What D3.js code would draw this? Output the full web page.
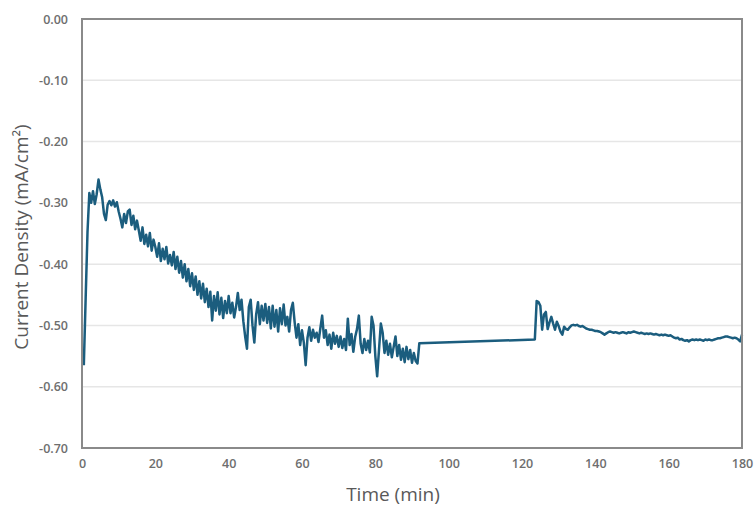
<!DOCTYPE html>
<html>
<head>
<meta charset="utf-8">
<script src="https://cdn.jsdelivr.net/npm/d3@7/dist/d3.min.js"></script>
<style>
  html, body { margin: 0; padding: 0; background: #fff; }
  svg { display: block; }
</style>
</head>
<body>
<svg id="chart" width="754" height="506"></svg>
<script>
// Chronoamperometry record: current density (mA/cm²) vs time (min)
const xTicks = [0, 20, 40, 60, 80, 100, 120, 140, 160, 180];
const yTicks = [0, -0.1, -0.2, -0.3, -0.4, -0.5, -0.6, -0.7];

// first run: sampled every 0.5 min starting at 0.5 min
const runAStart = 0.5;
const runAStep = 0.5;
const runACurrent = [
  -0.565, -0.455, -0.348, -0.284, -0.300, -0.281, -0.302, -0.286, -0.262, -0.278,
  -0.291, -0.318, -0.328, -0.303, -0.297, -0.304, -0.296, -0.306, -0.299, -0.314,
  -0.326, -0.340, -0.318, -0.333, -0.314, -0.311, -0.336, -0.321, -0.343, -0.329,
  -0.345, -0.362, -0.340, -0.367, -0.352, -0.371, -0.349, -0.378, -0.360, -0.372,
  -0.388, -0.366, -0.395, -0.375, -0.392, -0.372, -0.399, -0.385, -0.402, -0.380,
  -0.408, -0.388, -0.414, -0.395, -0.422, -0.400, -0.428, -0.408, -0.436, -0.415,
  -0.442, -0.420, -0.450, -0.428, -0.456, -0.432, -0.462, -0.440, -0.470, -0.445,
  -0.492, -0.452, -0.476, -0.446, -0.482, -0.455, -0.488, -0.460, -0.480, -0.452,
  -0.480, -0.463, -0.487, -0.470, -0.447, -0.475, -0.458, -0.493, -0.518, -0.538,
  -0.470, -0.458, -0.500, -0.528, -0.482, -0.462, -0.498, -0.468, -0.492, -0.465,
  -0.496, -0.470, -0.505, -0.468, -0.502, -0.475, -0.510, -0.472, -0.498, -0.466,
  -0.500, -0.486, -0.510, -0.475, -0.463, -0.495, -0.520, -0.498, -0.532, -0.508,
  -0.528, -0.565, -0.520, -0.503, -0.525, -0.507, -0.520, -0.512, -0.527, -0.505,
  -0.484, -0.520, -0.508, -0.532, -0.515, -0.538, -0.512, -0.530, -0.517, -0.535,
  -0.518, -0.537, -0.522, -0.540, -0.489, -0.532, -0.514, -0.543, -0.519, -0.506,
  -0.484, -0.530, -0.545, -0.522, -0.540, -0.525, -0.544, -0.486, -0.500, -0.550,
  -0.583, -0.540, -0.497, -0.512, -0.545, -0.525, -0.548, -0.530, -0.552, -0.535,
  -0.518, -0.550, -0.532, -0.556, -0.538, -0.560, -0.535, -0.555, -0.540, -0.561,
  -0.545, -0.558, -0.562, -0.529
];

// second run: sampled every 0.5 min starting at 123.5 min
const runBStart = 123.5;
const runBStep = 0.5;
const runBCurrent = [
  -0.523, -0.460, -0.462, -0.468, -0.507, -0.482, -0.478, -0.506, -0.495, -0.486,
  -0.497, -0.507, -0.494, -0.501, -0.510, -0.515, -0.502, -0.506, -0.507, -0.503,
  -0.500, -0.499, -0.500, -0.499, -0.501, -0.502, -0.501, -0.503, -0.505, -0.506,
  -0.507, -0.507, -0.508, -0.509, -0.509, -0.510, -0.511, -0.513, -0.515, -0.513,
  -0.511, -0.510, -0.511, -0.512, -0.511, -0.512, -0.513, -0.512, -0.511, -0.512,
  -0.513, -0.511, -0.512, -0.511, -0.510, -0.511, -0.512, -0.513, -0.512, -0.513,
  -0.514, -0.513, -0.514, -0.513, -0.514, -0.515, -0.514, -0.515, -0.516, -0.515,
  -0.516, -0.515, -0.516, -0.517, -0.516, -0.518, -0.520, -0.521, -0.520, -0.523,
  -0.522, -0.524, -0.525, -0.524, -0.526, -0.524, -0.523, -0.524, -0.523, -0.524,
  -0.523, -0.524, -0.525, -0.523, -0.524, -0.523, -0.524, -0.524, -0.523, -0.522,
  -0.521, -0.521, -0.520, -0.519, -0.518, -0.518, -0.519, -0.520, -0.521, -0.520,
  -0.521, -0.523, -0.526, -0.515
];

const series = [
  ...runACurrent.map((v, i) => ({ t: runAStart + i * runAStep, v })),
  ...runBCurrent.map((v, i) => ({ t: runBStart + i * runBStep, v }))
];

const svg = d3.select("#chart");
const margin = { left: 82, top: 19, right: 12, bottom: 58 };
const W = 754, H = 506;
const innerW = W - margin.left - margin.right;
const innerH = H - margin.top - margin.bottom;

const x = d3.scaleLinear().domain([0, 180]).range([margin.left, margin.left + innerW]);
const y = d3.scaleLinear().domain([-0.7, 0]).range([margin.top + innerH, margin.top]);

// tick text uses a plain hyphen for negatives
const fmtY = d => (d < 0 ? "-" : "") + Math.abs(d).toFixed(2);

// horizontal gridlines
svg.append("g")
  .selectAll("line")
  .data(yTicks.slice(1, -1))
  .join("line")
  .attr("x1", x(0)).attr("x2", x(180))
  .attr("y1", d => y(d)).attr("y2", d => y(d))
  .attr("stroke", "#e6e6e6")
  .attr("stroke-width", 1.5);

// y axis labels
const yAxis = d3.axisLeft(y).tickValues(yTicks).tickFormat(fmtY).tickSize(0).tickPadding(14);
const gy = svg.append("g").attr("transform", `translate(${margin.left},0)`).call(yAxis);
gy.select(".domain").remove();
gy.selectAll("text")
  .attr("fill", "#6e6e6e")
  .style("font-family", "'Open Sans', sans-serif")
  .style("font-size", "12.5px")
  .style("font-weight", "600");

// x axis labels
const xAxis = d3.axisBottom(x).tickValues(xTicks).tickFormat(d3.format("d")).tickSize(0).tickPadding(11);
const gx = svg.append("g").attr("transform", `translate(0,${margin.top + innerH})`).call(xAxis);
gx.select(".domain").remove();
gx.selectAll("text")
  .attr("fill", "#6e6e6e")
  .style("font-family", "'Open Sans', sans-serif")
  .style("font-size", "12.5px")
  .style("font-weight", "600");

// data line
const line = d3.line().x(d => x(d.t)).y(d => y(d.v));
svg.append("path")
  .datum(series)
  .attr("d", line)
  .attr("fill", "none")
  .attr("stroke", "#1b5d7e")
  .attr("stroke-width", 2.5)
  .attr("stroke-linejoin", "round");

// plot frame
svg.append("rect")
  .attr("x", x(0)).attr("y", y(0))
  .attr("width", x(180) - x(0)).attr("height", y(-0.7) - y(0))
  .attr("fill", "none")
  .attr("stroke", "#8a8a8a")
  .attr("stroke-width", 2);

// axis titles
svg.append("text")
  .attr("x", 393).attr("y", 501)
  .attr("text-anchor", "middle")
  .attr("fill", "#595959")
  .style("font-family", "'Open Sans', sans-serif")
  .style("font-size", "19px")
  .text("Time (min)");

svg.append("text")
  .attr("transform", "translate(28,237) rotate(-90)")
  .attr("text-anchor", "middle")
  .attr("fill", "#595959")
  .style("font-family", "'Open Sans', sans-serif")
  .style("font-size", "19px")
  .text("Current Density (mA/cm²)");
</script>
</body>
</html>
